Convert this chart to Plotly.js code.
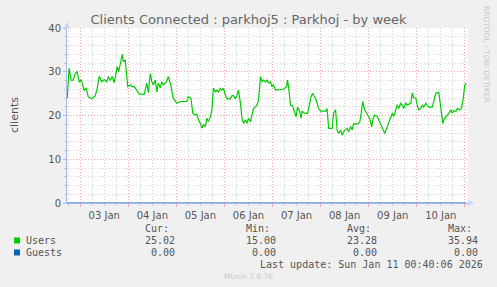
<!DOCTYPE html>
<html>
<head>
<meta charset="utf-8">
<script src="https://cdn.plot.ly/plotly-3.0.1.min.js"></script>
<style>html,body{margin:0;padding:0;background:#f0f0f0;}#chart{width:497px;height:287px;}</style>
</head>
<body>
<div id="chart"></div>
<script>
// ---- data ----
const times = [
'2026-01-02 17:30','2026-01-02 18:30','2026-01-02 19:30','2026-01-02 20:30','2026-01-02 21:30','2026-01-02 22:30','2026-01-02 23:30',
'2026-01-03 00:30','2026-01-03 01:15','2026-01-03 02:00','2026-01-03 03:00','2026-01-03 04:00','2026-01-03 05:45','2026-01-03 07:30',
'2026-01-03 08:30','2026-01-03 09:30','2026-01-03 10:45','2026-01-03 12:00','2026-01-03 13:15','2026-01-03 14:00','2026-01-03 15:00',
'2026-01-03 16:00','2026-01-03 17:00','2026-01-03 18:00','2026-01-03 18:30','2026-01-03 19:15','2026-01-03 20:00','2026-01-03 21:00',
'2026-01-03 21:30','2026-01-03 22:30','2026-01-03 23:15','2026-01-03 23:45',
'2026-01-04 01:00','2026-01-04 01:45','2026-01-04 03:00','2026-01-04 04:15','2026-01-04 05:30','2026-01-04 08:00','2026-01-04 09:15',
'2026-01-04 10:00','2026-01-04 11:00','2026-01-04 11:45','2026-01-04 12:30','2026-01-04 13:30','2026-01-04 14:15','2026-01-04 15:00',
'2026-01-04 16:00','2026-01-04 16:45','2026-01-04 17:30','2026-01-04 19:00','2026-01-04 20:00','2026-01-04 21:00','2026-01-04 22:30',
'2026-01-05 00:15','2026-01-05 02:00','2026-01-05 05:15','2026-01-05 06:00','2026-01-05 07:15','2026-01-05 08:15','2026-01-05 09:30',
'2026-01-05 10:15','2026-01-05 11:00','2026-01-05 12:00','2026-01-05 12:45','2026-01-05 13:30','2026-01-05 14:30','2026-01-05 15:15',
'2026-01-05 16:00','2026-01-05 17:00','2026-01-05 17:45','2026-01-05 18:30','2026-01-05 19:30','2026-01-05 20:15','2026-01-05 21:00',
'2026-01-05 22:00','2026-01-05 22:45','2026-01-05 23:30',
'2026-01-06 00:30','2026-01-06 01:15','2026-01-06 03:00','2026-01-06 03:45','2026-01-06 04:30','2026-01-06 05:30','2026-01-06 06:15',
'2026-01-06 07:00','2026-01-06 08:00','2026-01-06 08:45','2026-01-06 09:30','2026-01-06 10:30','2026-01-06 11:15','2026-01-06 12:00',
'2026-01-06 13:00','2026-01-06 13:45','2026-01-06 14:30','2026-01-06 15:30','2026-01-06 16:15','2026-01-06 17:00','2026-01-06 18:00',
'2026-01-06 18:45','2026-01-06 19:30','2026-01-06 20:30','2026-01-06 21:15','2026-01-06 22:00','2026-01-06 23:00','2026-01-06 23:45',
'2026-01-07 00:30','2026-01-07 01:30','2026-01-07 04:00','2026-01-07 05:30','2026-01-07 07:00','2026-01-07 07:30','2026-01-07 08:00',
'2026-01-07 09:00','2026-01-07 10:00','2026-01-07 11:00','2026-01-07 11:45','2026-01-07 12:30','2026-01-07 13:30','2026-01-07 14:15',
'2026-01-07 14:45','2026-01-07 15:30','2026-01-07 16:30','2026-01-07 17:30','2026-01-07 18:30','2026-01-07 19:15','2026-01-07 20:00',
'2026-01-07 21:00','2026-01-07 21:45','2026-01-07 23:00',
'2026-01-08 00:00','2026-01-08 02:30','2026-01-08 03:15','2026-01-08 04:00','2026-01-08 05:45','2026-01-08 06:30','2026-01-08 07:30',
'2026-01-08 08:15','2026-01-08 09:00','2026-01-08 10:00','2026-01-08 10:45','2026-01-08 11:30','2026-01-08 12:30','2026-01-08 13:15',
'2026-01-08 14:00','2026-01-08 15:00','2026-01-08 15:45','2026-01-08 16:30','2026-01-08 18:30','2026-01-08 19:30','2026-01-08 20:15',
'2026-01-08 21:00','2026-01-08 22:00','2026-01-08 22:45','2026-01-08 23:30',
'2026-01-09 00:30','2026-01-09 01:30','2026-01-09 02:15','2026-01-09 03:00','2026-01-09 04:15','2026-01-09 05:00','2026-01-09 06:00',
'2026-01-09 07:00','2026-01-09 08:00','2026-01-09 09:15','2026-01-09 10:00','2026-01-09 11:00','2026-01-09 11:45','2026-01-09 12:30',
'2026-01-09 13:30','2026-01-09 14:15','2026-01-09 15:00','2026-01-09 16:00','2026-01-09 16:45','2026-01-09 17:30','2026-01-09 18:30',
'2026-01-09 19:15','2026-01-09 21:00','2026-01-09 21:45','2026-01-09 22:30','2026-01-09 23:30',
'2026-01-10 00:15','2026-01-10 01:00','2026-01-10 02:00','2026-01-10 02:45','2026-01-10 03:30','2026-01-10 04:30','2026-01-10 05:15',
'2026-01-10 06:00','2026-01-10 07:45','2026-01-10 08:30','2026-01-10 09:30','2026-01-10 11:00','2026-01-10 11:30','2026-01-10 12:15',
'2026-01-10 13:00','2026-01-10 14:00','2026-01-10 14:45','2026-01-10 16:00','2026-01-10 17:00','2026-01-10 17:45','2026-01-10 18:30',
'2026-01-10 19:30','2026-01-10 20:15','2026-01-10 21:30','2026-01-10 22:15','2026-01-10 23:00',
'2026-01-11 00:00','2026-01-11 00:45'
];
const users = [
23.9,30.8,28.1,28.1,29.6,30.0,27.7,
28.1,27.0,25.7,26.3,24.3,23.8,24.5,
26.2,29.0,27.7,28.2,27.7,28.9,28.0,
28.9,27.5,30.2,31.2,30.0,31.5,34.0,
32.3,32.7,28.9,26.6,
27.0,26.6,26.6,25.8,24.9,24.9,27.4,
25.2,29.6,27.7,27.0,28.1,25.4,27.4,
26.3,27.7,27.0,27.7,28.9,27.4,23.9,
22.8,23.2,23.2,24.3,23.9,20.5,20.1,
20.3,19.0,18.2,17.1,17.9,17.5,19.4,
18.6,19.8,21.3,26.2,25.4,25.8,25.4,
26.2,25.8,26.2,
24.7,23.8,23.8,24.5,24.6,23.8,24.6,
25.8,22.8,19.4,18.2,19.0,18.2,19.4,
18.6,20.1,21.6,22.0,22.4,23.5,28.9,
27.7,28.1,27.7,28.1,27.4,27.7,26.6,
27.0,25.8,25.9,26.0,26.6,28.1,26.6,
22.4,22.2,20.9,19.7,21.9,21.0,19.4,
21.0,20.7,20.5,20.5,23.2,24.3,25.1,
24.0,23.6,21.6,
21.0,21.0,21.6,17.1,17.0,20.5,21.3,
16.7,15.9,16.7,15.5,16.3,16.7,17.1,
16.3,17.5,16.7,18.1,18.1,18.4,20.5,
23.2,21.3,20.5,20.1,
19.4,17.4,19.4,20.1,19.8,19.0,18.2,
17.1,15.9,17.4,18.2,19.4,20.5,19.8,
21.3,22.4,21.6,22.8,22.4,21.6,22.8,
22.4,22.8,25.1,24.0,24.0,
22.4,21.3,21.6,22.4,21.9,22.8,22.4,
21.9,21.9,23.5,25.1,25.3,23.5,21.3,
18.2,19.4,19.8,20.5,21.3,20.5,21.1,
20.9,21.6,21.3,21.6,23.2,
27.0,27.4
];
const guestTimes = ['2026-01-02 17:30','2026-01-11 00:45'];
const guests = [0, 0];

const seriesNames = ['Users','Guests'];
const statHeaders = ['Cur:','Min:','Avg:','Max:'];
const usersStats = ['25.02','15.00','23.28','35.94'];
const guestsStats = ['0.00','0.00','0.00','0.00'];
const titleText = 'Clients Connected : parkhoj5 : Parkhoj - by week';
const yTitle = 'clients';
const lastUpdate = 'Last update: Sun Jan 11 00:40:06 2026';

// ---- layout helpers (pixel -> paper) ----
const L = 67, R = 468, T = 28, B = 203;
const px = x => (x - L) / (R - L);
const py = y => (B - y) / (B - T);

const mono = {family: 'DejaVu Sans Mono', size: 10, color: '#555555'};
const ann = [];
function txt(text, x, y, anchor, font, extra) {
  ann.push(Object.assign({text: text, xref: 'paper', yref: 'paper', x: px(x), y: py(y),
    xanchor: anchor, yanchor: 'middle', showarrow: false, font: font,
    borderpad: 0, borderwidth: 0}, extra || {}));
}
const colRights = [168.5, 269.5, 370.5, 471.5];
const valRights = [174.5, 275.5, 376.5, 477.5];
statHeaders.forEach((h, i) => txt(h, colRights[i], 228.5, 'right', mono));
usersStats.forEach((v, i) => txt(v, valRights[i], 240.5, 'right', mono));
guestsStats.forEach((v, i) => txt(v, valRights[i], 252.5, 'right', mono));
txt(seriesNames[0], 26, 240.5, 'left', mono);
txt(seriesNames[1], 26, 252.5, 'left', mono);
txt(lastUpdate, 483, 264.5, 'right', mono);
txt('Munin 2.0.76', 248, 276.5, 'center', {family: 'DejaVu Sans', size: 7.5, color: '#c8c8c8'});
txt(yTitle, 14, 115, 'center', {family: 'DejaVu Sans', size: 11, color: '#555555'}, {textangle: -90});
txt('RRDTOOL / TOBI OETIKER', 487, 54, 'center', {family: 'DejaVu Sans', size: 7.5, color: '#c8c8c8'}, {textangle: 90});

const axisCol = '#aab6ee';
const shapes = [
  {type: 'rect', xref: 'paper', yref: 'paper', x0: px(14), x1: px(20), y0: py(243.5), y1: py(237.5),
   fillcolor: '#00cc00', line: {width: 0}},
  {type: 'rect', xref: 'paper', yref: 'paper', x0: px(14), x1: px(20), y0: py(255.5), y1: py(249.5),
   fillcolor: '#0066b3', line: {width: 0}},
  {type: 'path', xref: 'paper', yref: 'paper',
   path: `M ${px(64)} ${py(28)} L ${px(70)} ${py(28)} L ${px(67)} ${py(21.5)} Z`,
   fillcolor: '#cfd6f8', line: {width: 0}},
  {type: 'path', xref: 'paper', yref: 'paper',
   path: `M ${px(468)} ${py(200)} L ${px(468)} ${py(206)} L ${px(474.5)} ${py(203)} Z`,
   fillcolor: '#cfd6f8', line: {width: 0}}
];

const traces = [
  {type: 'scatter', mode: 'lines', name: seriesNames[1], x: guestTimes, y: guests,
   line: {color: '#0066b3', width: 1}},
  {type: 'scatter', mode: 'lines', name: seriesNames[0], x: times, y: users,
   line: {color: '#00cc00', width: 1.2}}
];

const gridRed = '#f2a4a4', gridGray = '#d2d2d2';
const layout = {
  width: 497, height: 287,
  margin: {l: L, r: 497 - R, t: T, b: 287 - B, pad: 0},
  paper_bgcolor: '#f0f0f0', plot_bgcolor: '#ffffff',
  showlegend: false,
  title: {text: titleText, x: 0.5, xref: 'container', xanchor: 'center', y: 1 - 19 / 287, yref: 'container', yanchor: 'middle',
          font: {family: 'DejaVu Sans', size: 13, color: '#666666'}},
  xaxis: {
    type: 'date', range: ['2026-01-02 17:25', '2026-01-11 01:35'],
    tick0: '2026-01-03', dtick: 86400000, ticklabelmode: 'period', tickformat: '%d %b',
    showgrid: true, gridcolor: gridRed, griddash: '1px,2px', gridwidth: 1,
    ticks: 'outside', ticklen: 3, tickcolor: gridRed,
    showline: true, linecolor: axisCol, linewidth: 1, zeroline: false,
    tickfont: {family: 'DejaVu Sans', size: 10, color: '#555555'},
    minor: {dtick: 21600000, tick0: '2026-01-03', showgrid: true, gridcolor: gridGray, griddash: '1px,2px',
            ticks: 'outside', ticklen: 2, tickcolor: '#c8c8c8'}
  },
  yaxis: {
    range: [0, 40], tick0: 0, dtick: 10,
    showgrid: true, gridcolor: gridRed, griddash: '1px,2px', gridwidth: 1,
    ticks: 'outside', ticklen: 3, tickcolor: '#c0c0c0',
    showline: true, linecolor: axisCol, linewidth: 1, zeroline: false,
    tickfont: {family: 'DejaVu Sans', size: 10, color: '#555555'},
    minor: {dtick: 2, showgrid: true, gridcolor: gridGray, griddash: '1px,2px',
            ticks: 'outside', ticklen: 2, tickcolor: '#c8c8c8'}
  },
  annotations: ann,
  shapes: shapes,
  hovermode: false
};

Plotly.newPlot('chart', traces, layout, {staticPlot: true, displayModeBar: false});
</script>
</body>
</html>
